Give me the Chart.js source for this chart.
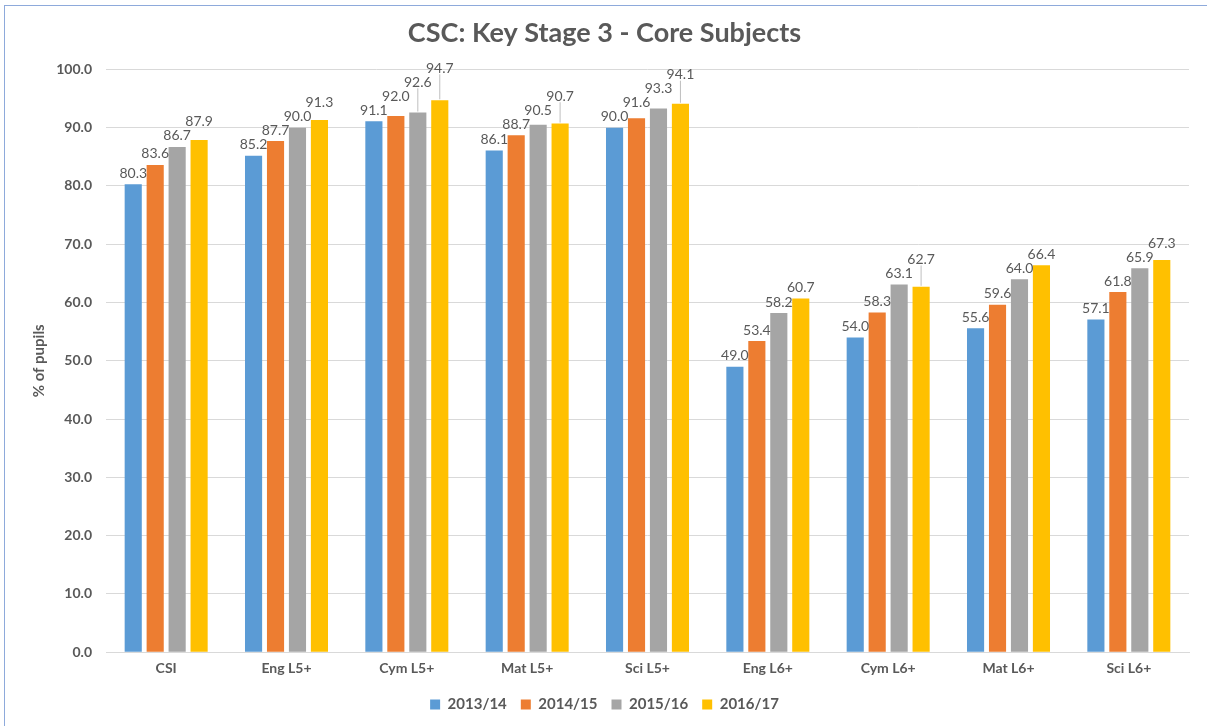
<!DOCTYPE html>
<html>
<head>
<meta charset="utf-8">
<title>CSC: Key Stage 3 - Core Subjects</title>
<script src="https://cdn.jsdelivr.net/npm/chart.js@4.4.0/dist/chart.umd.min.js"></script>
<style>
  html, body { margin: 0; padding: 0; background: #fff; overflow: hidden; }
  #frame {
    position: absolute; left: 4px; top: 5px;
    width: 1220px; height: 740px;
    border: 1px solid #8eaadb;
    box-sizing: border-box;
  }
  #wrap { position: absolute; left: 0; top: 0; width: 1207px; height: 722px; }
</style>
</head>
<body>
<div id="frame"></div>
<div id="wrap"><canvas id="chart"></canvas></div>
<script>
const categories = ["CSI", "Eng L5+", "Cym L5+", "Mat L5+", "Sci L5+", "Eng L6+", "Cym L6+", "Mat L6+", "Sci L6+"];
const years = ["2013/14", "2014/15", "2015/16", "2016/17"];
const values1314 = [80.3, 85.2, 91.1, 86.1, 90.0, 49.0, 54.0, 55.6, 57.1];
const values1415 = [83.6, 87.7, 92.0, 88.7, 91.6, 53.4, 58.3, 59.6, 61.8];
const values1516 = [86.7, 90.0, 92.6, 90.5, 93.3, 58.2, 63.1, 64.0, 65.9];
const values1617 = [87.9, 91.3, 94.7, 90.7, 94.1, 60.7, 62.7, 66.4, 67.3];
const colors = ["#5B9BD5", "#ED7D31", "#A5A5A5", "#FFC000"];

const series = [values1314, values1415, values1516, values1617];
const FONT = 'Lato';

// value labels above the bars. A label that runs into its neighbour is nudged
// right a little, or lifted above it if that is not enough (roughly what excel does)
const barLabels = {
    id: 'barLabels',
    afterDatasetsDraw(chart) {
        const ctx = chart.ctx;
        const h = 14;
        const gap = 3;
        ctx.save();
        ctx.font = '14px ' + FONT;
        ctx.fillStyle = '#595959';
        ctx.strokeStyle = '#bfbfbf';
        ctx.lineWidth = 1;
        ctx.textAlign = 'center';
        ctx.textBaseline = 'bottom';
        const n = chart.data.labels.length;
        for (let j = 0; j < n; j++) {
            const placed = [];
            chart.data.datasets.forEach((ds, i) => {
                const bar = chart.getDatasetMeta(i).data[j];
                const txt = ds.data[j].toFixed(1);
                const w = ctx.measureText(txt).width;
                const base = bar.y - 4;
                let x = bar.x;
                let bottom = base;
                let moved = true;
                while (moved) {
                    moved = false;
                    placed.forEach(p => {
                        const need = (p.w + w) / 2 + gap - (x - p.x);
                        const vy = bottom > p.bottom - h && bottom - h < p.bottom;
                        if (need > 0 && vy) {
                            if (x - bar.x + need <= 6) x += need;
                            else bottom = p.bottom - h;
                            moved = true;
                        }
                    });
                }
                if (base - bottom > 12) {
                    ctx.beginPath();
                    ctx.moveTo(bar.x, bar.y - 1);
                    ctx.lineTo(x, bottom - 1);
                    ctx.stroke();
                }
                ctx.fillText(txt, x, bottom);
                placed.push({ x: x, w: w, bottom: bottom });
            });
        }
        ctx.restore();
    }
};

const ctx = document.getElementById('chart').getContext('2d');
const chart = new Chart(ctx, {
    type: 'bar',
    data: {
        labels: categories,
        datasets: years.map((y, i) => ({
            label: y,
            data: series[i],
            backgroundColor: colors[i],
            categoryPercentage: 0.73,
            barPercentage: 0.78
        }))
    },
    options: {
        responsive: true,
        maintainAspectRatio: false,
        animation: false,
        layout: { padding: { left: 20, right: 18, top: 10, bottom: 0 } },
        plugins: {
            title: {
                display: true,
                text: 'CSC: Key Stage 3 - Core Subjects',
                color: '#595959',
                font: { family: FONT, size: 27, weight: 'bold' },
                padding: { top: 7, bottom: 20 }
            },
            legend: {
                position: 'bottom',
                labels: {
                    color: '#595959',
                    font: { family: FONT, size: 15, weight: 'bold' },
                    boxWidth: 10,
                    boxHeight: 10,
                    padding: 14
                }
            },
            tooltip: { enabled: false }
        },
        scales: {
            x: {
                grid: { display: false },
                border: { color: '#d9d9d9' },
                ticks: {
                    color: '#595959',
                    font: { family: FONT, size: 14, weight: 'bold' },
                    padding: 0
                },
                afterFit(scale) { scale.height += 6; }
            },
            y: {
                min: 0,
                max: 100,
                grid: { color: '#d9d9d9', drawTicks: false },
                border: { display: false },
                ticks: {
                    stepSize: 10,
                    color: '#595959',
                    font: { family: FONT, size: 14, weight: 'bold' },
                    padding: 14,
                    callback: v => v.toFixed(1)
                },
                title: {
                    display: true,
                    text: '% of pupils',
                    color: '#595959',
                    font: { family: FONT, size: 15, weight: 'bold' },
                    padding: { top: 10, bottom: 0 }
                },
                afterFit(scale) { scale.width = 86; }
            }
        }
    },
    plugins: [barLabels]
});
</script>
</body>
</html>
